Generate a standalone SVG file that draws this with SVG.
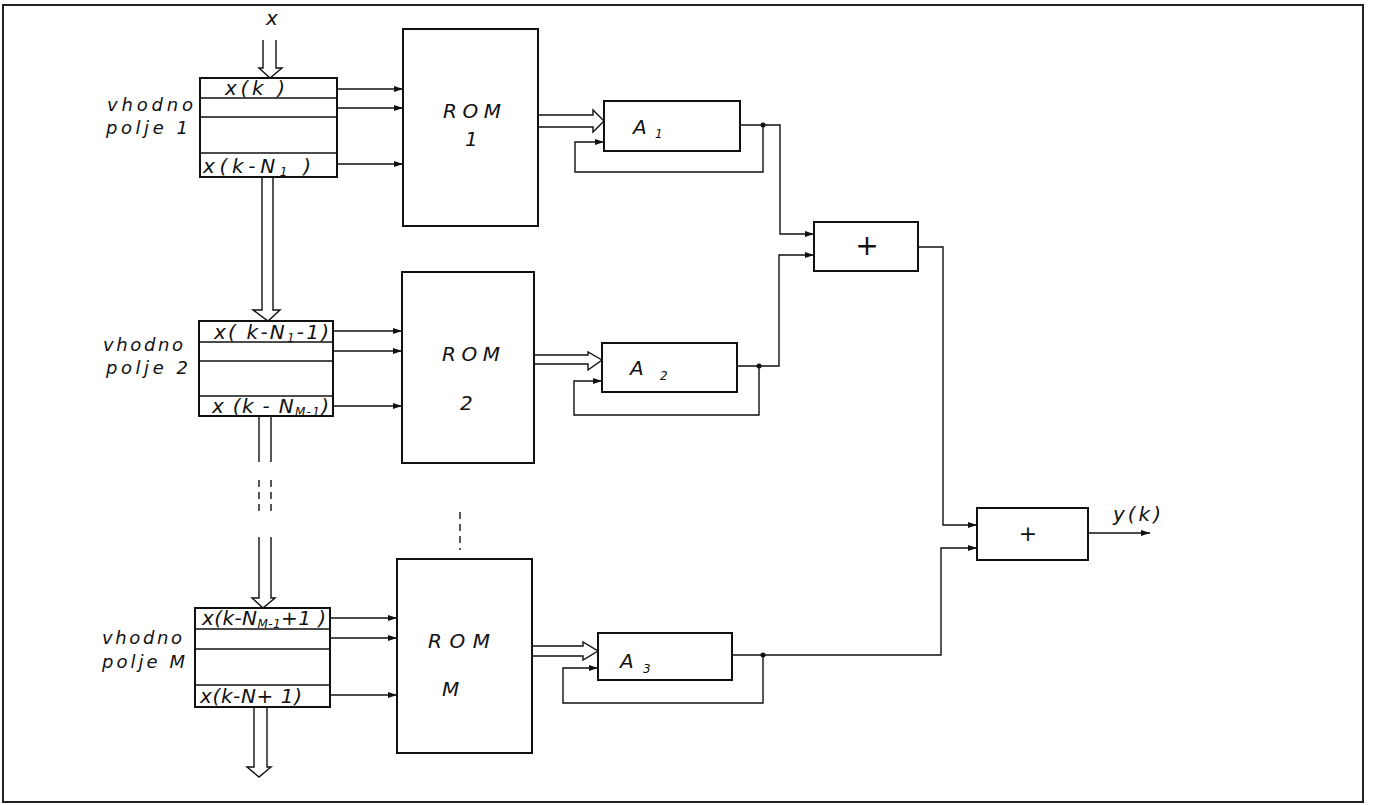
<svg xmlns="http://www.w3.org/2000/svg" width="1373" height="805" viewBox="0 0 1373 805">
<defs>
<marker id="ah" markerUnits="userSpaceOnUse" markerWidth="9" markerHeight="6" refX="9" refY="3" orient="auto">
<path d="M0,0 L9,3 L0,6 z" fill="#111"/>
</marker>
<style>
.box{fill:#fff;stroke:#111;stroke-width:2}
.ln{fill:none;stroke:#111;stroke-width:1.4}
.bus{fill:#fff;stroke:#111;stroke-width:1.4}
.t{font-family:"DejaVu Sans","Liberation Sans",sans-serif;font-style:italic;font-size:20px;fill:#111}
.lab{font-size:18px}
.s{font-size:12px}
</style>
</defs>
<rect x="3" y="5" width="1360" height="797" fill="#fff" stroke="#222" stroke-width="2"/>

<g id="connectors">
<path class="bus" d="M263,40 V68 H259 L270,78 L282,68 H276 V40"/>
<path class="bus" d="M262,177 V310 H253 L268,321 L280,310 H273 V177"/>
<path class="ln" d="M259,416 V462 M271,416 V462"/>
<path class="ln" d="M259,480 V514 M271,480 V514" stroke-dasharray="7,5"/>
<path class="bus" d="M259,537 V598 H252 L263,608 L275,598 H271 V537"/>
<path class="bus" d="M254,707 V767 H247 L259,777 L271,767 H267 V707"/>
<path class="bus" d="M538,115 H593 V110 L604,121 L593,132 V127 H538"/>
<path class="bus" d="M534,355 H588 V352 L602,360 L588,370 V364 H534"/>
<path class="bus" d="M532,646 H583 V642 L598,651 L583,660 V656 H532"/>
<path class="ln" marker-end="url(#ah)" d="M337,89 H403"/>
<path class="ln" marker-end="url(#ah)" d="M337,108 H403"/>
<path class="ln" marker-end="url(#ah)" d="M337,164 H403"/>
<path class="ln" marker-end="url(#ah)" d="M333,331 H402"/>
<path class="ln" marker-end="url(#ah)" d="M333,351 H402"/>
<path class="ln" marker-end="url(#ah)" d="M333,406 H402"/>
<path class="ln" marker-end="url(#ah)" d="M330,618 H397"/>
<path class="ln" marker-end="url(#ah)" d="M330,638 H397"/>
<path class="ln" marker-end="url(#ah)" d="M330,695 H397"/>
<path class="ln" d="M460,512 V550" stroke-dasharray="7,5"/>
<path class="ln" marker-end="url(#ah)" d="M740,125 H780 V234 H814"/>
<path class="ln" marker-end="url(#ah)" d="M763,125 V172 H575 V142 H604"/>
<path class="ln" marker-end="url(#ah)" d="M737,366 H779 V255 H814"/>
<path class="ln" marker-end="url(#ah)" d="M759,366 V415 H574 V381 H602"/>
<path class="ln" marker-end="url(#ah)" d="M732,655 H941 V548 H977"/>
<path class="ln" marker-end="url(#ah)" d="M763,655 V703 H563 V668 H598"/>
<path class="ln" marker-end="url(#ah)" d="M918,247 H943 V525 H977"/>
<path class="ln" marker-end="url(#ah)" d="M1088,533 H1150"/>
<circle cx="763" cy="125" r="2.5" fill="#111"/>
<circle cx="759" cy="366" r="2.5" fill="#111"/>
<circle cx="763" cy="655" r="2.5" fill="#111"/>
</g>

<text class="t" x="266" y="25">x</text>

<g id="field1">
<rect class="box" x="200" y="78" width="137" height="99"/>
<path class="ln" d="M200,98 H337 M200,117 H337 M200,153 H337"/>
<text class="t" x="225" y="95" textLength="60" lengthAdjust="spacing">x(k )</text>
<text class="t" x="203" y="173" textLength="108" lengthAdjust="spacing">x(k-N<tspan class="s" dy="3">1</tspan><tspan dy="-3"> )</tspan></text>
<text class="t lab" x="107" y="111" textLength="86">vhodno</text>
<text class="t lab" x="106" y="134" textLength="82">polje 1</text>
</g>

<g id="field2">
<rect class="box" x="199" y="321" width="134" height="95"/>
<path class="ln" d="M199,342 H333 M199,361 H333 M199,396 H333"/>
<text class="t" x="214" y="339" textLength="115">x( k-N<tspan class="s" dy="3">1</tspan><tspan dy="-3">-1)</tspan></text>
<text class="t" x="212" y="413" textLength="117">x (k - N<tspan class="s" dy="3">M-1</tspan><tspan dy="-3">)</tspan></text>
<text class="t lab" x="103" y="351" textLength="80">vhodno</text>
<text class="t lab" x="106" y="374" textLength="82">polje 2</text>
</g>

<g id="fieldM">
<rect class="box" x="195" y="608" width="135" height="99"/>
<path class="ln" d="M195,629 H330 M195,649 H330 M195,685 H330"/>
<text class="t" x="202" y="625" textLength="124">x(k-N<tspan class="s" dy="3">M-1</tspan><tspan dy="-3">+1 )</tspan></text>
<text class="t" x="200" y="703" textLength="102">x(k-N+ 1)</text>
<text class="t lab" x="102" y="644" textLength="80">vhodno</text>
<text class="t lab" x="102" y="668" textLength="83">polje M</text>
</g>

<g id="rom1">
<rect class="box" x="403" y="29" width="135" height="197"/>
<text class="t" x="443" y="118" textLength="58">ROM</text>
<text class="t" x="465" y="146">1</text>
</g>
<g id="rom2">
<rect class="box" x="402" y="272" width="132" height="191"/>
<text class="t" x="442" y="361" textLength="58">ROM</text>
<text class="t" x="460" y="410">2</text>
</g>
<g id="romM">
<rect class="box" x="397" y="559" width="135" height="194"/>
<text class="t" x="428" y="648" textLength="62">ROM</text>
<text class="t" x="442" y="696">M</text>
</g>

<g id="a1">
<rect class="box" x="604" y="101" width="136" height="50"/>
<text class="t" x="633" y="134">A</text>
<text class="t s" x="655" y="138">1</text>
</g>
<g id="a2">
<rect class="box" x="602" y="343" width="135" height="49"/>
<text class="t" x="630" y="375">A</text>
<text class="t s" x="660" y="380">2</text>
</g>
<g id="a3">
<rect class="box" x="598" y="633" width="134" height="47"/>
<text class="t" x="620" y="668">A</text>
<text class="t s" x="643" y="673">3</text>
</g>

<g id="sum1">
<rect class="box" x="814" y="222" width="104" height="49"/>
<text class="t" x="867" y="255" style="font-size:28px" text-anchor="middle">+</text>
</g>
<g id="sum2">
<rect class="box" x="977" y="508" width="111" height="52"/>
<text class="t" x="1028" y="541" style="font-size:22px" text-anchor="middle">+</text>
</g>
<text class="t" x="1113" y="521" textLength="48">y(k)</text>
</svg>
